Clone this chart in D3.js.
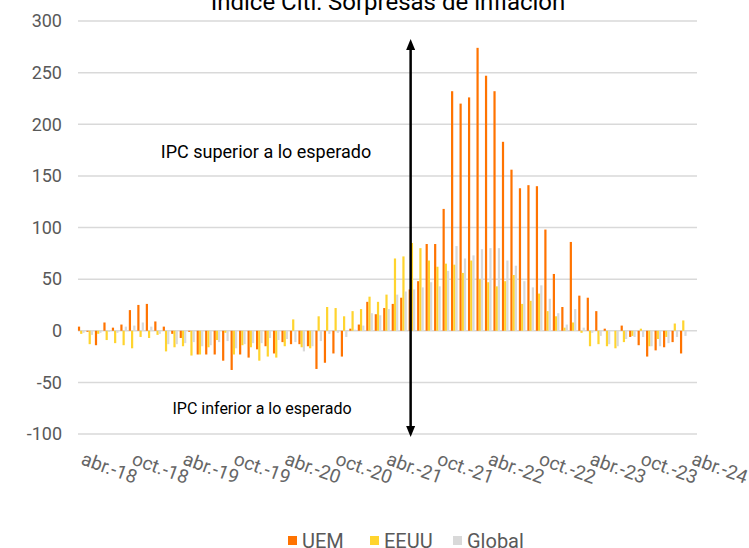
<!DOCTYPE html>
<html>
<head>
<meta charset="utf-8">
<script src="https://cdn.jsdelivr.net/npm/d3@7"></script>
<style>
  body { margin: 0; background: #fff; }
  svg text { font-family: Roboto, "Liberation Sans", sans-serif; }
</style>
</head>
<body>
<div id="chart"></div>
<script>
// months on the axis (abr.-18 .. abr.-24)
var categories = [
  "abr.-18","may.-18","jun.-18","jul.-18","ago.-18","sept.-18","oct.-18","nov.-18","dic.-18",
  "ene.-19","feb.-19","mar.-19","abr.-19","may.-19","jun.-19","jul.-19","ago.-19","sept.-19","oct.-19","nov.-19","dic.-19",
  "ene.-20","feb.-20","mar.-20","abr.-20","may.-20","jun.-20","jul.-20","ago.-20","sept.-20","oct.-20","nov.-20","dic.-20",
  "ene.-21","feb.-21","mar.-21","abr.-21","may.-21","jun.-21","jul.-21","ago.-21","sept.-21","oct.-21","nov.-21","dic.-21",
  "ene.-22","feb.-22","mar.-22","abr.-22","may.-22","jun.-22","jul.-22","ago.-22","sept.-22","oct.-22","nov.-22","dic.-22",
  "ene.-23","feb.-23","mar.-23","abr.-23","may.-23","jun.-23","jul.-23","ago.-23","sept.-23","oct.-23","nov.-23","dic.-23",
  "ene.-24","feb.-24","mar.-24","abr.-24"
];

var tickLabels = ["abr.-18","oct.-18","abr.-19","oct.-19","abr.-20","oct.-20","abr.-21",
  "oct.-21","abr.-22","oct.-22","abr.-23","oct.-23","abr.-24"];

var seriesNames = ["UEM", "EEUU", "Global"];

var uem = [4, -1, -14, 8, 3, 6, 20, 25, 26, 9, 4, -3, -7, -1, -23, -23, -23, -29, -38, -23,
  -26, -18, -15, -22, -11, -13, -13, -15, -37, -31, -22, -25, 2, 6, 28, 16, 22, 26, 32, 40,
  48, 84, 84, 118, 232, 220, 226, 274, 247, 232, 183, 156, 138, 141, 140, 98, 55, 23, 86, 34,
  32, 19, 2, 0, 5, -6, -14, -25, -19, -16, -11, -22];

var eeuu = [-3, -13, -3, -9, -12, -14, -17, -6, -7, -4, -20, -16, -15, -24, -23, -16, -9, -2, -23, -14,
  -16, -29, -25, -26, -15, 11, -16, -17, 14, 23, 22, 14, 19, 21, 33, 28, 35, 70, 72, 85,
  80, 68, 62, 65, 64, 56, 68, 50, 47, 43, 48, 54, 26, 29, 36, 19, 14, 3, 8, -2,
  -15, -13, -15, -17, -11, -5, 2, -15, -8, -6, 7, 10];

var global = [-2, -4, -2, -1, -2, 4, 5, 8, 4, -3, -13, -13, -12, -11, -15, -14, -11, -10, -17, -13,
  -12, -12, -7, -9, -8, -11, -20, -15, -10, -3, -2, -6, 1, 5, 17, 15, 21, 35, 38, 40,
  42, 47, 43, 58, 82, 70, 73, 79, 80, 80, 68, 63, 48, 42, 44, 31, 17, 6, 21, 3,
  -2, -5, -13, -15, -8, -6, -6, -15, -15, -12, -6, -5];

var yTicks = [-100, -50, 0, 50, 100, 150, 200, 250, 300];

var colors = { "UEM": "#ff7300", "EEUU": "#ffd42e", "Global": "#d9d9d9" };

var width = 749, height = 548;
var plotLeft = 77, plotRight = 696, plotTop = 21, plotBottom = 434;

var svg = d3.select("#chart").append("svg")
  .attr("width", width)
  .attr("height", height);

var x = d3.scaleBand()
  .domain(categories)
  .range([plotLeft, plotRight])
  .paddingInner(0.22)
  .paddingOuter(0.11);

var xs = d3.scaleBand()
  .domain(seriesNames)
  .range([0, x.bandwidth()]);

var y = d3.scaleLinear()
  .domain([-100, 300])
  .range([plotBottom, plotTop]);

//grid lines
svg.append("g")
  .selectAll("line")
  .data(yTicks)
  .enter()
  .append("line")
  .attr("x1", plotLeft + 1)
  .attr("x2", plotRight + 1)
  .attr("y1", function(d) { return y(d); })
  .attr("y2", function(d) { return y(d); })
  .attr("stroke", "#d9d9d9")
  .attr("stroke-width", 1.5);

//y labels
svg.append("g")
  .selectAll("text")
  .data(yTicks)
  .enter()
  .append("text")
  .attr("x", 62)
  .attr("y", function(d) { return y(d); })
  .attr("dy", "0.35em")
  .attr("text-anchor", "end")
  .attr("font-size", 18)
  .attr("fill", "#595959")
  .text(function(d) { return d; });

//remap data into one list of bars
var theData = [];
categories.forEach(function(c, i) {
  if (i >= uem.length) return;
  theData.push({ cat: c, name: "UEM", value: uem[i] });
  theData.push({ cat: c, name: "EEUU", value: eeuu[i] });
  theData.push({ cat: c, name: "Global", value: global[i] });
});

svg.append("g")
  .selectAll("rect")
  .data(theData)
  .enter()
  .append("rect")
  .attr("x", function(d) { return x(d.cat) + xs(d.name); })
  .attr("width", xs.bandwidth())
  .attr("y", function(d) { return y(Math.max(0, d.value)); })
  .attr("height", function(d) { return Math.abs(y(d.value) - y(0)); })
  .attr("fill", function(d) { return colors[d.name]; });

//x labels, rotated
svg.append("g")
  .selectAll("text")
  .data(tickLabels)
  .enter()
  .append("text")
  .attr("transform", function(d) {
    return "translate(" + (x(d) + 2) + ",464) rotate(20)";
  })
  .attr("font-size", 19)
  .attr("fill", "#666")
  .text(function(d) { return d; });

//title (cut at the top, like the original)
svg.append("text")
  .attr("x", 388)
  .attr("y", 10)
  .attr("text-anchor", "middle")
  .attr("font-size", 24)
  .attr("fill", "#000")
  .text("Índice Citi: Sorpresas de inflación");

//double arrow
var ax = x("jul.-21") + 2;
var arrow = svg.append("g");
arrow.append("line")
  .attr("x1", ax).attr("x2", ax)
  .attr("y1", 48).attr("y2", 428)
  .attr("stroke", "#000")
  .attr("stroke-width", 2.5);
arrow.append("path")
  .attr("d", "M" + ax + ",39 L" + (ax - 4.5) + ",50 L" + (ax + 4.5) + ",50 Z")
  .attr("fill", "#000");
arrow.append("path")
  .attr("d", "M" + ax + ",437 L" + (ax - 4.5) + ",426 L" + (ax + 4.5) + ",426 Z")
  .attr("fill", "#000");

svg.append("text")
  .attr("x", 266)
  .attr("y", 158)
  .attr("text-anchor", "middle")
  .attr("font-size", 18)
  .attr("fill", "#000")
  .text("IPC superior a lo esperado");

svg.append("text")
  .attr("x", 262)
  .attr("y", 414)
  .attr("text-anchor", "middle")
  .attr("font-size", 16)
  .attr("fill", "#000")
  .text("IPC inferior a lo esperado");

//legend
var legendX = [288, 370, 453];
var legend = svg.append("g")
  .selectAll("g")
  .data(seriesNames)
  .enter()
  .append("g")
  .attr("transform", function(d, i) {
    return "translate(" + legendX[i] + ",536)";
  });
legend.append("rect")
  .attr("width", 9)
  .attr("height", 9)
  .attr("fill", function(d) { return colors[d]; });
legend.append("text")
  .attr("x", 14)
  .attr("y", 4.5)
  .attr("dy", "0.35em")
  .attr("font-size", 20)
  .attr("fill", "#595959")
  .text(function(d) { return d; });
</script>
</body>
</html>
